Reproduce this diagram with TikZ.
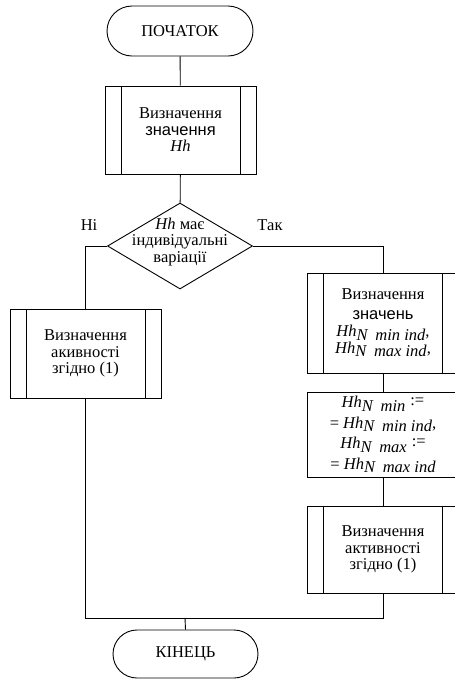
\documentclass[tikz,border=0pt]{standalone}
\usepackage{fontspec}
\setmainfont{Liberation Serif}
\newfontfamily\sansfnt{Liberation Sans}
\usetikzlibrary{shapes.geometric}

\newcommand{\hhsub}[1]{\textit{Hh}\raisebox{-3.5pt}{\textit{N}\hspace{7pt}\textit{#1}}}

\begin{document}
\begin{tikzpicture}[x=1pt, y=-1pt, line width=0.9pt,
    every node/.style={font=\fontsize{16.5}{16.5}\selectfont, align=center, inner sep=0pt},
    term/.style={draw, rectangle, rounded corners=25pt, minimum width=146pt, minimum height=50pt},
    subproc/.style={draw, rectangle, minimum width=151pt, minimum height=#1,
      path picture={
        \draw ([xshift=16pt]path picture bounding box.north west) -- ([xshift=16pt]path picture bounding box.south west);
        \draw ([xshift=-16pt]path picture bounding box.north east) -- ([xshift=-16pt]path picture bounding box.south east);
      }},
    proc/.style={draw, rectangle, minimum width=151pt, minimum height=#1},
    decision/.style={draw, diamond, minimum width=145pt, minimum height=86pt}]
  \useasboundingbox (0,0) rectangle (455,681);
  % Start and first step
  \node[term] (start) at (180,31) {ПОЧАТОК};
  \node[subproc=88pt] (hh) at (180.5,130) {Визначення\\{\sansfnt значення}\\\textit{Hh}};
  \draw (start) -- (hh);
  % Decision
  \node[decision] (dec) at (180,246) {};
  \node (dectxt) at (180,242) {\textit{Hh} має\\індивідуальні\\варіації};
  \node (no) at (89,225) {Ні};
  \node (yes) at (270,225) {Так};
  \draw (hh) -- (dec);
  % Left branch
  \node[subproc=89pt] (lact) at (85.5,353.5) {Визначення\\акивності\\згідно (1)};
  \draw (dec.west) -| (lact.north);
  % Right branch
  \node[subproc=100pt] (rval) at (383,323) {Визначення\\[3pt]{\sansfnt значень}\\[1pt]\hhsub{min ind},\\\hhsub{max ind},};
  \node[proc=85pt] (rset) at (383,434.5) {\hhsub{min}\hspace{5pt}\raisebox{2pt}{:=}\\[4pt]
    = \hhsub{min ind},\\[4pt]\hhsub{max}\hspace{5pt}\raisebox{2pt}{:=}\\[4pt]= \hhsub{max ind}};
  \node[subproc=87pt] (ract) at (383,549.5) {Визначення\\активності\\згідно (1)};
  \draw (dec.east) -| (rval.north);
  \draw (rval) -- (rset);
  \draw (rset) -- (ract);
  % Merge and end
  \coordinate (mrg) at (185,618);
  \node[term, minimum height=48pt, minimum width=145pt, rounded corners=24pt] (end) at (185.5,654) {КІНЕЦЬ};
  \draw (lact.south) |- (mrg);
  \draw (ract.south) |- (mrg);
  \draw (mrg) -- (end.north);
\end{tikzpicture}
\end{document}
